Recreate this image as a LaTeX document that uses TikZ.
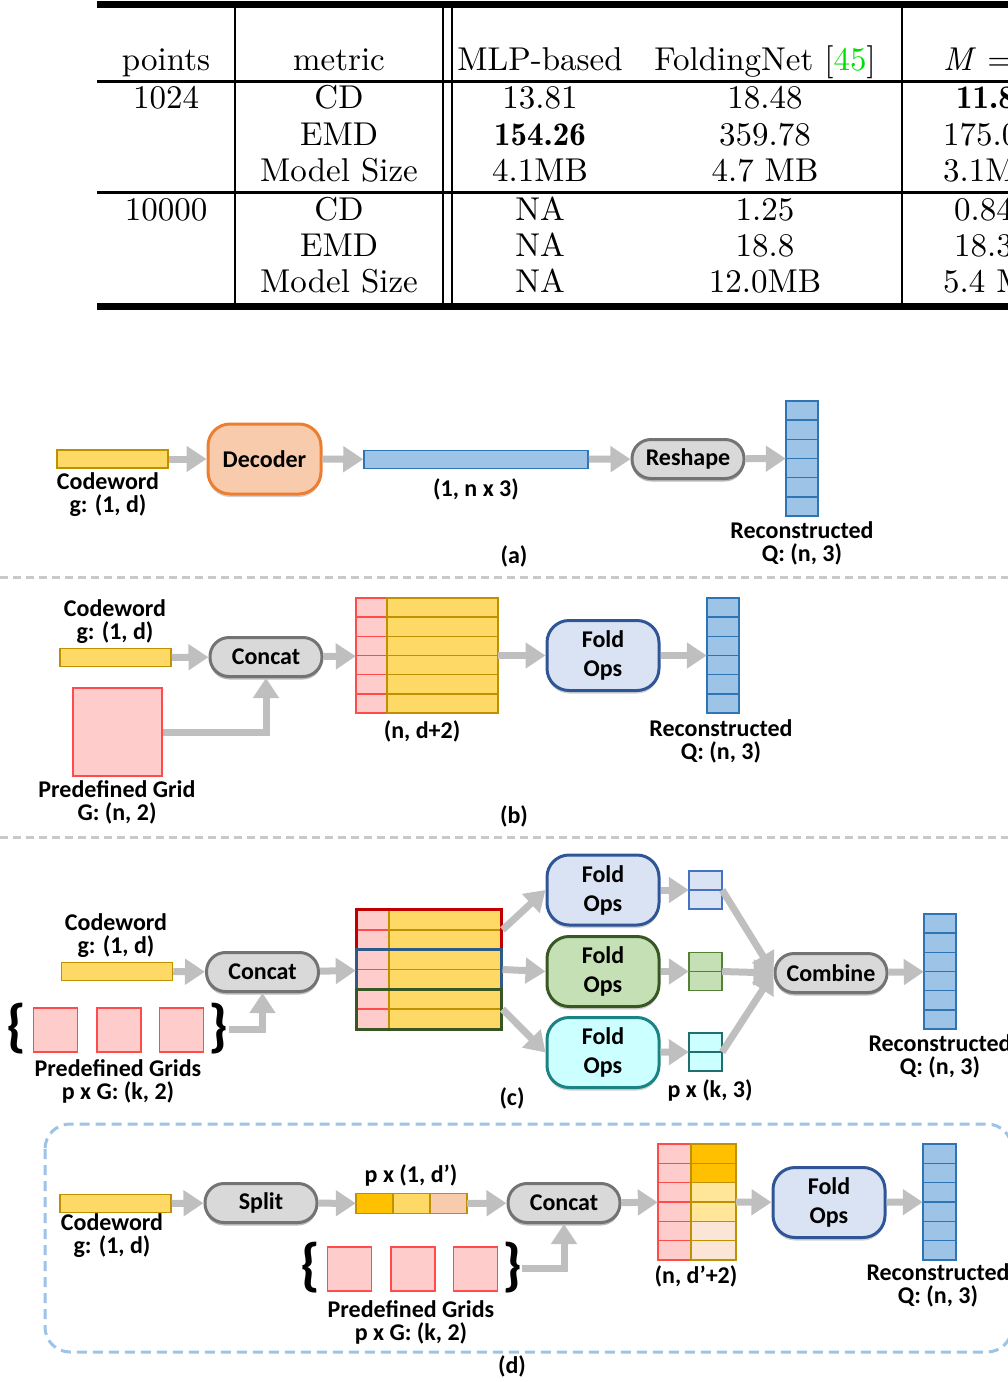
\documentclass[tikz,border=0pt]{standalone}
\usepackage{fontspec}
\newfontfamily\carlito{Carlito}
\newfontfamily\tabfont{lmroman10-regular}[Extension=.otf, BoldFont=lmromandemi10-regular, ItalicFont=lmroman10-italic]
\usetikzlibrary{arrows.meta,shadows}

\definecolor{cwyellow}{HTML}{FFD966}
\definecolor{cwgold}{HTML}{BF9000}
\definecolor{qblue}{HTML}{9DC3E6}
\definecolor{qline}{HTML}{2E75B6}
\definecolor{gridpink}{HTML}{FFCCCC}
\definecolor{gridred}{HTML}{FF4B4B}
\definecolor{decfill}{HTML}{F8CBAD}
\definecolor{decline}{HTML}{ED7D31}
\definecolor{opfill}{HTML}{D9D9D9}
\definecolor{opline}{HTML}{737373}
\definecolor{foldblue}{HTML}{DAE3F3}
\definecolor{foldblueline}{HTML}{2F5597}
\definecolor{foldgreen}{HTML}{C5E0B4}
\definecolor{foldgreenline}{HTML}{385723}
\definecolor{foldcyan}{HTML}{CCFFFF}
\definecolor{foldcyanline}{HTML}{1B8383}
\definecolor{flowgray}{HTML}{BFBFBF}
\definecolor{sepgray}{HTML}{C9C9C9}
\definecolor{boxblue}{HTML}{9DC3E6}
\definecolor{gold}{HTML}{FFC000}
\definecolor{lightgold}{HTML}{FFE699}
\definecolor{lightpeach}{HTML}{FBE5D6}
\definecolor{grpred}{HTML}{C00000}
\definecolor{grpblue}{HTML}{2E5A88}
\definecolor{grpgreen}{HTML}{375623}
\definecolor{citegreen}{HTML}{00DD00}

\begin{document}
\begin{tikzpicture}[x=1pt,y=-1pt,
		tabtxt/.style={font=\tabfont\fontsize{33}{36}\selectfont, anchor=base, inner sep=0pt},
		lbl/.style={font=\carlito\bfseries\fontsize{24}{23}\selectfont, align=center, inner sep=0pt, anchor=base},
		bracetxt/.style={font=\carlito\bfseries\fontsize{58}{58}\selectfont, inner sep=0pt},
		bar/.style={draw=cwgold, fill=cwyellow, line width=1.5pt, minimum width=111pt, minimum height=18pt, inner sep=0pt},
		qcell/.style={draw=qline, fill=qblue, line width=1.5pt, minimum width=32pt, minimum height=19.2pt, inner sep=0pt},
		pcell/.style={draw=gridred, fill=gridpink, line width=1.5pt, minimum width=32pt, minimum height=19.2pt, inner sep=0pt},
		ycell/.style={draw=cwgold, fill=cwyellow, line width=1.5pt, minimum width=111pt, minimum height=19.2pt, inner sep=0pt},
		frame/.style={inner sep=0pt, minimum width=#1},
		gridsq/.style={draw=gridred, fill=gridpink, line width=1.5pt, minimum width=44pt, minimum height=44pt, inner sep=0pt},
		opbox/.style={draw=opline, fill=opfill, line width=3pt, rounded corners=19pt,
			minimum width=112pt, minimum height=39pt, inner sep=0pt,
			font=\carlito\bfseries\fontsize{24}{23}\selectfont,
			drop shadow={shadow xshift=0pt, shadow yshift=-3pt, opacity=0.45, fill=black!60}},
		foldbox/.style={rounded corners=22pt, line width=3pt, minimum width=112pt, minimum height=70pt,
			inner sep=0pt, align=center, font=\carlito\bfseries\fontsize{24}{29}\selectfont,
			drop shadow={shadow xshift=0pt, shadow yshift=-3pt, opacity=0.3, fill=black!60}},
		flow/.style={draw=flowgray, line width=7pt, -{Triangle[length=20pt,width=25pt]}},
		sepline/.style={draw=sepgray, line width=3pt, dash pattern=on 8pt off 5pt}
	]
	
	\useasboundingbox (0,0) rectangle (1008,1382);
	\clip (0,0) rectangle (1008,1382);
	
	% Table
	\draw[line width=7pt] (97,4.5) -- (1008,4.5);
	\draw[line width=3pt] (97,81) -- (1008,81);
	\draw[line width=3pt] (97,192.5) -- (1008,192.5);
	\draw[line width=7pt] (97,306) -- (1008,306);
	\foreach \vx in {235,443,452,901.5}
		\draw[line width=2pt] (\vx,8) -- (\vx,302.5);
	
	\node[tabtxt] (hpts) at (166,70) {points};
	\node[tabtxt] (hmet) at (339,70) {metric};
	\node[tabtxt] (hmlp) at (540,70) {MLP-based};
	\node[tabtxt] (hfold) at (765,70) {FoldingNet [\textcolor{citegreen}{45}]};
	\node[tabtxt, anchor=base west] (hours) at (943,70) {\textit{M} =};
	
	\foreach \pts/\met/\mlp/\fnet/\ours/\ox/\ry [count=\r] in {
		1024/CD/13.81/18.48/\textbf{11.8}/956/108,
		{}/EMD/\textbf{154.26}/359.78/175.0/943/145,
		{}/Model Size/4.1MB/4.7 MB/3.1M/943/181,
		10000/CD/NA/1.25/0.84/954/220,
		{}/EMD/NA/18.8/18.3/954/256,
		{}/Model Size/NA/12.0MB/5.4 M/943/292}
	{
		\node[tabtxt] (pts\r) at (166,\ry) {\pts};
		\node[tabtxt] (met\r) at (339,\ry) {\met};
		\node[tabtxt] (mlp\r) at (540,\ry) {\mlp};
		\node[tabtxt] (fnet\r) at (765,\ry) {\fnet};
		\node[tabtxt, anchor=base west] (ours\r) at (\ox,\ry) {\ours};
	}
	
	% (a) plain decoder
	\node[bar] (cwA) at (112.5,459) {};
	\node[lbl] (cwAl) at (108,512) {Codeword\\g: (1, d)};
	\node[foldbox, draw=decline, fill=decfill, minimum width=113pt] (dec) at (264.5,459) {Decoder};
	\node[bar, draw=qline, fill=qblue, minimum width=224pt] (vecA) at (476,459.5) {};
	\node[lbl] (vecAl) at (476,496) {(1, n x 3)};
	\node[opbox] (resh) at (688,459) {Reshape};
	\node[frame=32pt, minimum height=115pt] (qA) at (802,458.5) {};
	\foreach \k in {0,...,5}
		\node[qcell] (qA\k) at (802,401+19.17*\k+9.58) {};
	\node[lbl] (qAl) at (802,561) {Reconstructed\\Q: (n, 3)};
	\node[lbl] (capA) at (514,563) {(a)};
	
	\draw[flow] (cwA) -- (dec);
	\draw[flow] (dec) -- (vecA);
	\draw[flow] (vecA) -- (resh);
	\draw[flow] (resh) -- (qA);
	
	\draw[sepline] (0,577) -- (1008,577);
	
	% (b) single fold
	\node[lbl] (cwBl) at (115,639) {Codeword\\g: (1, d)};
	\node[bar] (cwB) at (115.5,657.5) {};
	\node[opbox] (catB) at (266,657) {Concat};
	\node[gridsq, minimum width=89pt, minimum height=88pt] (gridB) at (117.5,732) {};
	\node[lbl] (gridBl) at (117,820) {Predefined Grid\\G: (n, 2)};
	\node[frame=142pt, minimum height=115pt] (matB) at (427,655.5) {};
	\foreach \k in {0,...,5} {
		\node[pcell, minimum width=31pt] (pB\k) at (371.5,598+19.17*\k+9.58) {};
		\node[ycell] (yB\k) at (442.5,598+19.17*\k+9.58) {};
	}
	\node[lbl] (matBl) at (422,738) {(n, d+2)};
	\node[foldbox, draw=foldblueline, fill=foldblue] (foldB) at (603,655.5) {Fold\\Ops};
	\node[frame=32pt, minimum height=115pt] (qB) at (723,655.5) {};
	\foreach \k in {0,...,5}
		\node[qcell] (qB\k) at (723,598+19.17*\k+9.58) {};
	\node[lbl] (qBl) at (721,759) {Reconstructed\\Q: (n, 3)};
	\node[lbl] (capB) at (514,823) {(b)};
	
	\draw[flow] (cwB) -- (catB);
	\draw[flow] (gridB.east) -| (catB.south);
	\draw[flow] (catB) -- (matB);
	\draw[flow] (matB) -- (foldB);
	\draw[flow] (foldB) -- (qB);
	
	\draw[sepline] (0,837) -- (1008,837);
	
	% (c) several folds
	\node[lbl] (cwCl) at (116,953) {Codeword\\g: (1, d)};
	\node[bar] (cwC) at (117,971.5) {};
	\node[opbox] (catC) at (262.5,972) {Concat};
	\node[bracetxt] (lbC) at (16.5,1029) {\{};
	\foreach \gx [count=\i] in {55.5,119,181.5}
		\node[gridsq] (gC\i) at (\gx,1030) {};
	\node[bracetxt] (rbC) at (218.5,1029) {\}};
	\node[lbl] (gridCl) at (118,1099) {Predefined Grids\\p x G: (k, 2)};
	\node[frame=145pt, minimum height=119pt] (matC) at (428.5,969.5) {};
	\foreach \k in {0,...,5} {
		\node[pcell, minimum width=33pt, minimum height=19.83pt] (pC\k) at (372.5,910+19.83*\k+9.92) {};
		\node[ycell, minimum width=112pt, minimum height=19.83pt] (yC\k) at (445,910+19.83*\k+9.92) {};
	}
	\node[draw=grpred, line width=3pt, frame=145pt, minimum height=39.7pt] (grpR) at (428.5,929.8) {};
	\node[draw=grpblue, line width=3pt, frame=145pt, minimum height=39.7pt] (grpB) at (428.5,969.5) {};
	\node[draw=grpgreen, line width=3pt, frame=145pt, minimum height=39.7pt] (grpG) at (428.5,1009.2) {};
	\node[foldbox, draw=foldblueline, fill=foldblue] (foldC1) at (603,890) {Fold\\Ops};
	\node[foldbox, draw=foldgreenline, fill=foldgreen] (foldC2) at (603,971.5) {Fold\\Ops};
	\node[foldbox, draw=foldcyanline, fill=foldcyan] (foldC3) at (603,1052.5) {Fold\\Ops};
	\foreach \sy/\sf/\sl [count=\i] in {890/foldblue/4472C4, 971.5/foldgreen/548235, 1052/foldcyan/1F6F6F} {
		\definecolor{smline}{HTML}{\sl}
		\node[frame=33pt, minimum height=38.4pt] (sC\i) at (705.5,\sy) {};
		\node[qcell, draw=smline, fill=\sf, minimum width=33pt] (sC\i a) at (705.5,\sy-9.6) {};
		\node[qcell, draw=smline, fill=\sf, minimum width=33pt] (sC\i b) at (705.5,\sy+9.6) {};
	}
	\node[lbl] (sCl) at (710,1097) {p x (k, 3)};
	\node[opbox] (comb) at (831,973) {Combine};
	\node[frame=32pt, minimum height=115pt] (qC) at (940,971.5) {};
	\foreach \k in {0,...,5}
		\node[qcell] (qC\k) at (940,914+19.17*\k+9.58) {};
	\node[lbl] (qCl) at (940,1074) {Reconstructed\\Q: (n, 3)};
	\node[lbl] (capC) at (512,1105) {(c)};
	
	\draw[flow] (cwC) -- (catC);
	\draw[flow] (rbC.east) -| (catC.south);
	\draw[flow] (catC) -- (matC);
	\draw[flow] (grpR.east) -- (foldC1.west);
	\draw[flow] (grpB.east) -- (foldC2.west);
	\draw[flow] (grpG.east) -- (foldC3.west);
	\foreach \i in {1,2,3} {
		\draw[flow] (foldC\i) -- (sC\i);
		\draw[flow] (sC\i.east) -- (comb.west);
	}
	\draw[flow] (comb) -- (qC);
	
	% (d) split codeword
	\draw[draw=boxblue, line width=3pt, dash pattern=on 10pt off 6pt, rounded corners=25pt]
		(45,1124) rectangle (1012,1352);
	\node[bar] (cwD) at (115.5,1203.5) {};
	\node[lbl] (cwDl) at (112,1253) {Codeword\\g: (1, d)};
	\node[opbox] (split) at (261,1203) {Split};
	\node[frame=111pt, minimum height=20pt] (sbar) at (411.5,1203.5) {};
	\foreach \bx/\bf [count=\i] in {374.5/gold, 411.5/cwyellow, 448.5/decfill}
		\node[bar, fill=\bf, minimum width=37pt, minimum height=20pt] (sb\i) at (\bx,1203.5) {};
	\node[lbl] (sbarl) at (411,1182) {p x (1, d’)};
	\node[opbox] (catD) at (564,1203) {Concat};
	\node[bracetxt] (lbD) at (310,1268) {\{};
	\foreach \gx [count=\i] in {349.5,413,475.5}
		\node[gridsq] (gD\i) at (\gx,1269) {};
	\node[bracetxt] (rbD) at (512,1268) {\}};
	\node[lbl] (gridDl) at (411,1340) {Predefined Grids\\p x G: (k, 2)};
	\node[frame=78pt, minimum height=116pt] (matD) at (697,1202) {};
	\foreach \k/\cf in {0/gold,1/gold,2/lightgold,3/lightgold,4/lightpeach,5/lightpeach} {
		\node[pcell, minimum width=33pt, minimum height=19.33pt] (pD\k) at (674.5,1144+19.33*\k+9.67) {};
		\node[ycell, fill=\cf, minimum width=45pt, minimum height=19.33pt] (yD\k) at (713.5,1144+19.33*\k+9.67) {};
	}
	\node[lbl] (matDl) at (696,1283) {(n, d’+2)};
	\node[foldbox, draw=foldblueline, fill=foldblue] (foldD) at (829,1202.5) {Fold\\Ops};
	\node[frame=33pt, minimum height=116pt] (qD) at (939.5,1202) {};
	\foreach \k in {0,...,5}
		\node[qcell, minimum width=33pt, minimum height=19.33pt] (qD\k) at (939.5,1144+19.33*\k+9.67) {};
	\node[lbl] (qDl) at (938,1303) {Reconstructed\\Q: (n, 3)};
	\node[lbl] (capD) at (512,1373) {(d)};
	
	\draw[flow] (cwD) -- (split);
	\draw[flow] (split) -- (sbar);
	\draw[flow] (sbar) -- (catD);
	\draw[flow] (rbD.east) -| (catD.south);
	\draw[flow] (catD) -- (matD);
	\draw[flow] (matD) -- (foldD);
	\draw[flow] (foldD) -- (qD);
	
\end{tikzpicture}
\end{document}
